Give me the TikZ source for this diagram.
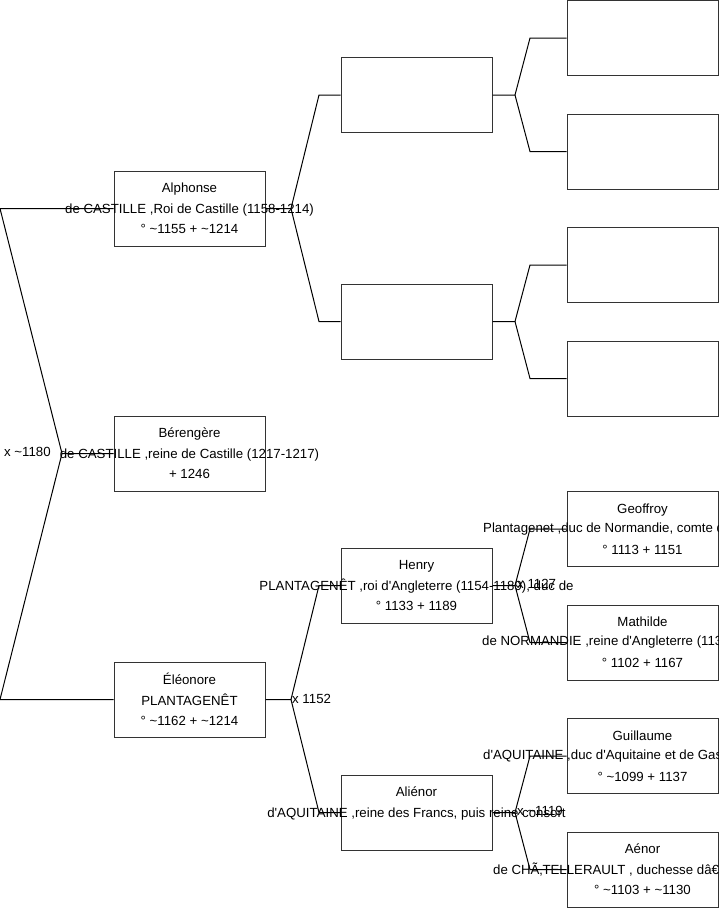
\documentclass[tikz,border=0pt]{standalone}
\usepackage{fontspec}
\setmainfont{Liberation Sans}[Ligatures=TeXOff]
\newcommand{\abt}{\textasciitilde}

\begin{document}
\begin{tikzpicture}[
    x=1pt, y=-1pt,
    every node/.style={font=\fontsize{13.25}{20.5}\selectfont},
    person/.style={draw=black!80, line width=1pt, fill=white, minimum width=151pt, minimum height=75pt, inner sep=0pt},
    who/.style={align=center, inner sep=0pt},
    cut/.style={anchor=west, inner sep=0pt},
    wed/.style={anchor=west, inner sep=0pt},
    link/.style={draw=black, line width=1pt}
]
\useasboundingbox (0,0) rectangle (719,908);

% first generation
\node[person] (alphonse) at (189.5,208.5) {};
\node[person] (berengere) at (189.5,453.5) {};
\node[person] (eleonore) at (189.5,699.5) {};

% second generation
\node[person] (gpA) at (416.5,95) {};
\node[person] (gpB) at (416.5,321.5) {};
\node[person] (henry) at (416.5,585.5) {};
\node[person] (alienor) at (416.5,812.5) {};

% third generation
\node[person] (ggpA) at (642.5,38) {};
\node[person] (ggpB) at (642.5,151.5) {};
\node[person] (ggpC) at (642.5,265) {};
\node[person] (ggpD) at (642.5,378.5) {};
\node[person] (geoffroy) at (642.5,529) {};
\node[person] (mathilde) at (642.5,642.5) {};
\node[person] (guillaume) at (642.5,756) {};
\node[person] (aenor) at (642.5,869.5) {};

% texts
\node[who] (alphonseT) at (alphonse) {Alphonse\\de CASTILLE ,Roi de Castille (1158-1214)\\° \abt1155 + \abt1214};
\node[who] (berengereT) at (berengere) {Bérengère\\de CASTILLE ,reine de Castille (1217-1217)\\+ 1246};
\node[who] (eleonoreT) at (eleonore) {Éléonore\\PLANTAGENÊT\\° \abt1162 + \abt1214};
\node[who] (henryT) at (henry) {Henry\\PLANTAGENÊT ,roi d'Angleterre (1154-1189), duc de\\° 1133 + 1189};
\node[who] (alienorT) at (alienor) {Aliénor\\d'AQUITAINE ,reine des Francs, puis reine consort\\\mbox{}};
\node[who] (geoffroyT) at (geoffroy) {Geoffroy\\\mbox{}\\° 1113 + 1151};
\node[who] (mathildeT) at (mathilde) {Mathilde\\\mbox{}\\° 1102 + 1167};
\node[who] (guillaumeT) at (guillaume) {Guillaume\\\mbox{}\\° \abt1099 + 1137};
\node[who] (aenorT) at (aenor) {Aénor\\\mbox{}\\° \abt1103 + \abt1130};
\node[cut] (geoffroyL) at (483,529) {Plantagenet ,duc de Normandie, comte d};
\node[cut] (mathildeL) at (482,642.5) {de NORMANDIE ,reine d'Angleterre (113};
\node[cut] (guillaumeL) at (483,756) {d'AQUITAINE ,duc d'Aquitaine et de Gas};
\node[cut] (aenorL) at (493,869.5) {de CHÃ‚TELLERAULT , duchesse dâ€};

% forks
\coordinate (rootF) at (62,453.5);
\coordinate (rootUp) at (0,208.5);
\coordinate (rootDn) at (0,699.5);
\coordinate (alphonseF) at (291,208.5);
\coordinate (alphonseUp) at (319,95);
\coordinate (alphonseDn) at (319,321.5);
\coordinate (eleonoreF) at (291,699.5);
\coordinate (eleonoreUp) at (319,585.5);
\coordinate (eleonoreDn) at (319,812.5);
\coordinate (gpAF) at (515,95);
\coordinate (gpAUp) at (530,38);
\coordinate (gpADn) at (530,151.5);
\coordinate (gpBF) at (515,321.5);
\coordinate (gpBUp) at (530,265);
\coordinate (gpBDn) at (530,378.5);
\coordinate (henryF) at (515,585.5);
\coordinate (henryUp) at (530,529);
\coordinate (henryDn) at (530,642.5);
\coordinate (alienorF) at (515,812.5);
\coordinate (alienorUp) at (530,756);
\coordinate (alienorDn) at (530,869.5);

% marriages
\node[wed] (rootW) at (4,452) {x \abt1180};
\node[wed] (eleonoreW) at (292,698.5) {x 1152};
\node[wed] (henryW) at (517,584) {x 1127};
\node[wed] (alienorW) at (517,811) {x \abt1119};

% connectors
\draw[link] (berengere.west) -- (rootF) -- (rootUp) -- (alphonse.west);
\draw[link] (rootF) -- (rootDn) -- (eleonore.west);
\draw[link] (alphonse.east) -- (alphonseF) -- (alphonseUp) -- (gpA.west);
\draw[link] (alphonseF) -- (alphonseDn) -- (gpB.west);
\draw[link] (eleonore.east) -- (eleonoreF) -- (eleonoreUp) -- (henry.west);
\draw[link] (eleonoreF) -- (eleonoreDn) -- (alienor.west);
\draw[link] (gpA.east) -- (gpAF) -- (gpAUp) -- (ggpA.west);
\draw[link] (gpAF) -- (gpADn) -- (ggpB.west);
\draw[link] (gpB.east) -- (gpBF) -- (gpBUp) -- (ggpC.west);
\draw[link] (gpBF) -- (gpBDn) -- (ggpD.west);
\draw[link] (henry.east) -- (henryF) -- (henryUp) -- (geoffroy.west);
\draw[link] (henryF) -- (henryDn) -- (mathilde.west);
\draw[link] (alienor.east) -- (alienorF) -- (alienorUp) -- (guillaume.west);
\draw[link] (alienorF) -- (alienorDn) -- (aenor.west);
\end{tikzpicture}
\end{document}
